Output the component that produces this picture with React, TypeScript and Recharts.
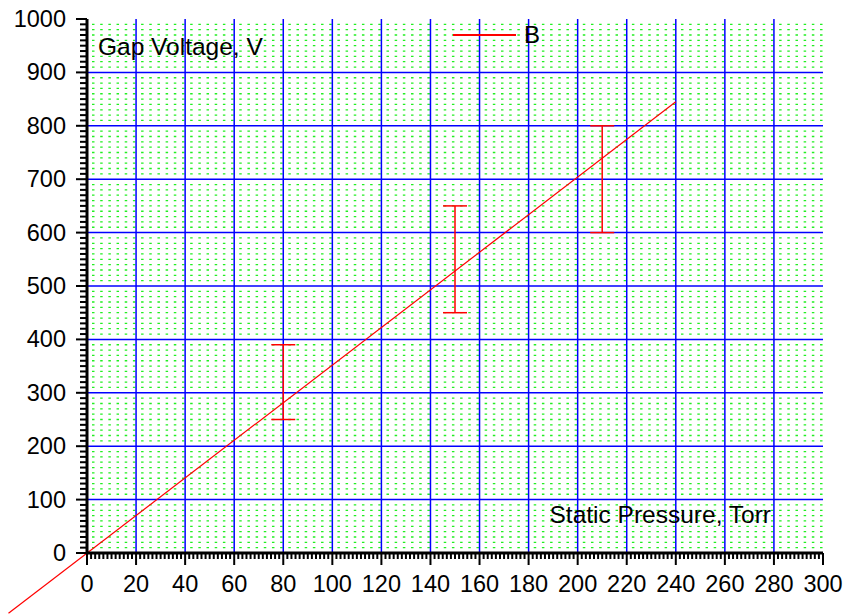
import React from 'react';
import { ScatterChart, Scatter, ErrorBar, XAxis, YAxis, ReferenceLine, Legend } from 'recharts';

// axis ticks
const xMajorTicks = [0, 20, 40, 60, 80, 100, 120, 140, 160, 180, 200, 220, 240, 260, 280, 300];
const yMajorTicks = [0, 100, 200, 300, 400, 500, 600, 700, 800, 900, 1000];
const xMinorPerMajor = 12;
const yMinorPerMajor = 10;

// measured points with error bars (series B)
const pressure = [80, 150, 210];
const voltage = [320, 550, 700];
const voltageErr = [70, 100, 100];

// fitted line
const fitPressure = [-32, 240];
const fitVoltage = [-113, 845];

const xStep = xMajorTicks[1] - xMajorTicks[0];
const yStep = yMajorTicks[1] - yMajorTicks[0];
const xTicks = Array.from({ length: (xMajorTicks.length - 1) * xMinorPerMajor + 1 }, (_, i) => (i * xStep) / xMinorPerMajor);
const yTicks = Array.from({ length: (yMajorTicks.length - 1) * yMinorPerMajor + 1 }, (_, i) => (i * yStep) / yMinorPerMajor);
const isMajor = (v: number, step: number) => Math.abs(v / step - Math.round(v / step)) < 1e-6;

const blueX = xMajorTicks.slice(1, -1);
const blueY = yMajorTicks.slice(1, -1);
const greenY = yTicks.filter((v) => v > 0 && v < 1000 && !isMajor(v, yStep));

const data = pressure.map((p, i) => ({ x: p, y: voltage[i], err: voltageErr[i] }));

const FONT = '"Liberation Sans", Arial, sans-serif';

const XTick = (props: any) => {
  const { x, y, payload } = props;
  const major = isMajor(payload.value, xStep);
  return (
    <g>
      <line x1={x} y1={y} x2={x} y2={y + (major ? 12 : 6)} stroke="#000" strokeWidth={2} />
      {major && (
        <text x={x} y={y + 39} textAnchor="middle" fontSize={23.5} fill="#000">
          {Math.round(payload.value)}
        </text>
      )}
    </g>
  );
};

const YTick = (props: any) => {
  const { x, y, payload } = props;
  const major = isMajor(payload.value, yStep);
  return (
    <g>
      <line x1={x} y1={y} x2={x - (major ? 11 : 7)} y2={y} stroke="#000" strokeWidth={2} />
      {major && (
        <text x={x - 21} y={y + 8} textAnchor="end" fontSize={23.5} fill="#000">
          {Math.round(payload.value)}
        </text>
      )}
    </g>
  );
};

const XTitle = (props: any) => {
  const { x, y, width } = props.viewBox;
  return (
    <text x={x + width - 52} y={y - 30} textAnchor="end" fontSize={24.5} fill="#000">
      Static Pressure, Torr
    </text>
  );
};

const YTitle = (props: any) => {
  const { x, y, width } = props.viewBox;
  return (
    <text x={x + width + 11} y={y + 36} textAnchor="start" fontSize={24.5} fill="#000">
      Gap Voltage, V
    </text>
  );
};

const renderLegend = () => (
  <div style={{ display: 'flex', alignItems: 'center', fontSize: 24, fontFamily: FONT, color: '#000' }}>
    <div style={{ width: 63, height: 2, background: '#ff0000', marginRight: 8 }} />
    <span>B</span>
  </div>
);

export default function App() {
  return (
    <div style={{ position: 'absolute', left: 0, top: 0, width: 845, height: 614, background: '#fff', fontFamily: FONT }}>
      <ScatterChart width={845} height={614} margin={{ top: 19, right: 22, bottom: 1, left: 7 }}>
        <XAxis
          type="number"
          dataKey="x"
          domain={[0, 300]}
          ticks={xTicks}
          interval={0}
          height={60}
          tickSize={0}
          tickMargin={0}
          tickLine={false}
          tick={<XTick />}
          axisLine={{ stroke: '#000', strokeWidth: 3 }}
          label={{ content: <XTitle /> }}
        />
        <YAxis
          type="number"
          dataKey="y"
          domain={[0, 1000]}
          ticks={yTicks}
          interval={0}
          width={80}
          tickSize={0}
          tickMargin={0}
          tickLine={false}
          tick={<YTick />}
          axisLine={{ stroke: '#000', strokeWidth: 3 }}
          label={{ content: <YTitle /> }}
        />
        {greenY.map((v) => (
          <ReferenceLine key={`g${v}`} y={v} stroke="#22ee22" strokeWidth={1.3} strokeDasharray="2.5 5.68" strokeDashoffset={-5} />
        ))}
        {blueX.map((v) => (
          <ReferenceLine key={`bx${v}`} x={v} stroke="#0000ff" strokeWidth={1.5} />
        ))}
        {blueY.map((v) => (
          <ReferenceLine key={`by${v}`} y={v} stroke="#0000ff" strokeWidth={1.5} />
        ))}
        <ReferenceLine
          segment={[
            { x: fitPressure[0], y: fitVoltage[0] },
            { x: fitPressure[1], y: fitVoltage[1] },
          ]}
          ifOverflow="visible"
          stroke="#ff0000"
          strokeWidth={1.2}
        />
        <Scatter name="B" data={data} shape={() => <g />} isAnimationActive={false}>
          <ErrorBar dataKey="err" direction="y" width={12} stroke="#ff0000" strokeWidth={1.5} isAnimationActive={false} />
        </Scatter>
        <Legend
          verticalAlign="middle"
          align="center"
          layout="horizontal"
          content={renderLegend}
          wrapperStyle={{ left: 453, top: 21, width: 'auto' }}
        />
      </ScatterChart>
    </div>
  );
}
